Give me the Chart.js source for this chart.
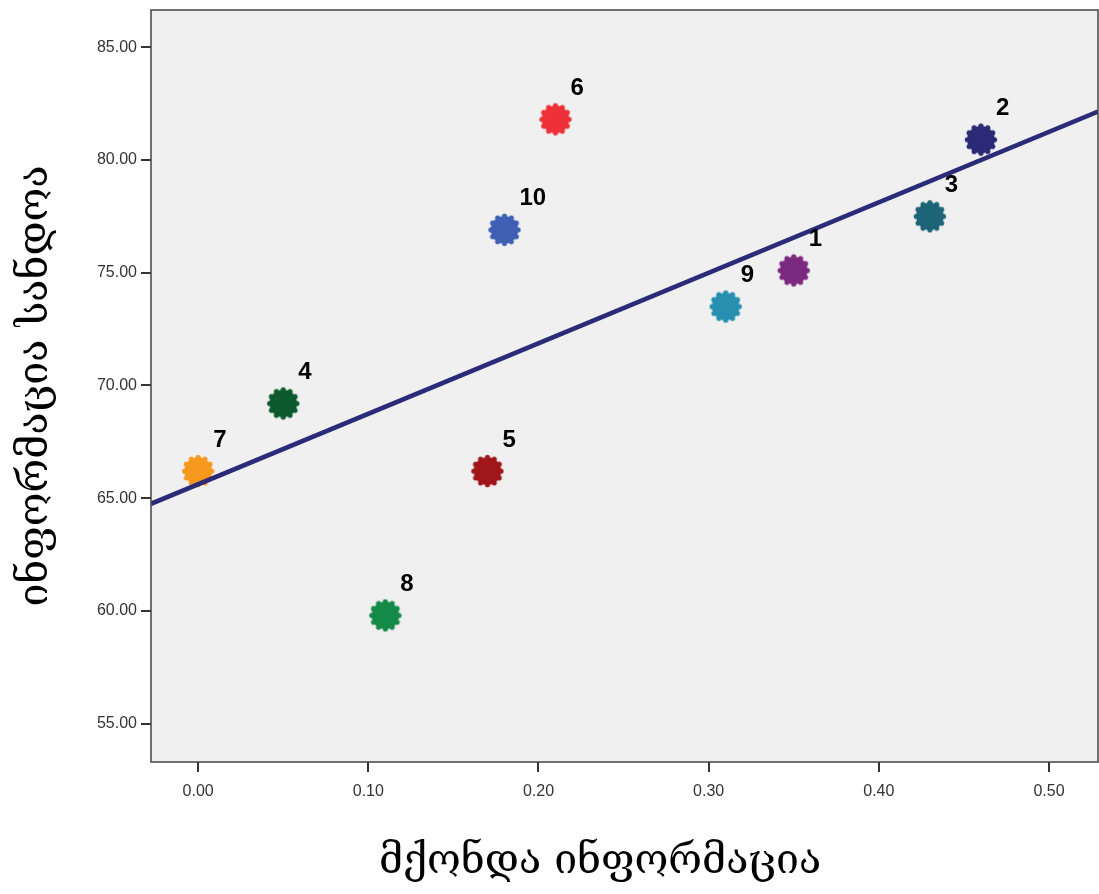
<!DOCTYPE html>
<html>
<head>
<meta charset="utf-8">
<script src="https://cdn.jsdelivr.net/npm/chart.js@4/dist/chart.umd.min.js"></script>
<style>
  html, body { margin: 0; padding: 0; background: #fff; }
  #wrap { width: 1099px; height: 894px; }
</style>
</head>
<body>
<div id="wrap"><canvas id="myChart" width="1099" height="894"></canvas></div>
<script>
// data
const ids = ["1", "2", "3", "4", "5", "6", "7", "8", "9", "10"];
const xVals = [0.35, 0.46, 0.43, 0.05, 0.17, 0.21, 0.00, 0.11, 0.31, 0.18];
const yVals = [75.1, 80.9, 77.5, 69.2, 66.2, 81.8, 66.2, 59.8, 73.5, 76.9];
const pointColors = ["#7c2a7f", "#2a2a76", "#1e6478", "#0c5a2e", "#a0161a",
                     "#ee3039", "#f7981f", "#138a48", "#2790b0", "#3f5fb5"];
const xTicks = [0, 0.1, 0.2, 0.3, 0.4, 0.5];
const yTicks = [55, 60, 65, 70, 75, 80, 85];
const xTitle = "მქონდა ინფორმაცია";
const yTitle = "ინფორმაცია სანდოა";

// least squares fit line
function fitLine(xs, ys) {
  var n = xs.length, mx = 0, my = 0;
  for (var i = 0; i < n; i++) { mx += xs[i] / n; my += ys[i] / n; }
  var sxy = 0, sxx = 0;
  for (var i = 0; i < n; i++) {
    sxy += (xs[i] - mx) * (ys[i] - my);
    sxx += (xs[i] - mx) * (xs[i] - mx);
  }
  var b = sxy / sxx;
  return { a: my - b * mx, b: b };
}
const fit = fitLine(xVals, yVals);
const xMin = -0.0277, xMax = 0.5288;
const yMin = 53.3, yMax = 86.65;

// scalloped marker
function flower(color) {
  var c = document.createElement("canvas");
  c.width = 36; c.height = 36;
  var g = c.getContext("2d");
  g.fillStyle = color;
  g.beginPath();
  g.arc(18, 18, 13.8, 0, Math.PI * 2);
  g.fill();
  for (var k = 0; k < 12; k++) {
    var ang = k * Math.PI / 6;
    g.beginPath();
    g.arc(18 + Math.cos(ang) * 13.6, 18 + Math.sin(ang) * 13.6, 2.6, 0, Math.PI * 2);
    g.fill();
  }
  return c;
}

const bgPlugin = {
  id: "bgPlugin",
  beforeDraw(chart) {
    const a = chart.chartArea, ctx = chart.ctx;
    ctx.save();
    ctx.fillStyle = "#f0f0f0";
    ctx.fillRect(a.left, a.top, a.right - a.left, a.bottom - a.top);
    ctx.restore();
  },
  afterDraw(chart) {
    const a = chart.chartArea, ctx = chart.ctx;
    ctx.save();
    ctx.strokeStyle = "#444";
    ctx.lineWidth = 1.5;
    ctx.strokeRect(a.left, a.top, a.right - a.left, a.bottom - a.top);
    // point labels
    const meta = chart.getDatasetMeta(1);
    ctx.fillStyle = "#000";
    ctx.font = "bold 24px 'Liberation Sans', Arial, sans-serif";
    ctx.textAlign = "left";
    ctx.textBaseline = "middle";
    meta.data.forEach(function (p, i) {
      ctx.fillText(ids[i], p.x + 15, p.y - 31);
    });
    // x axis title
    ctx.font = "41px 'DejaVu Serif', serif";
    ctx.textAlign = "center";
    ctx.fillText(xTitle, 600, 862);
    ctx.restore();
  }
};

const ctx = document.getElementById("myChart");
new Chart(ctx, {
  type: "scatter",
  data: {
    datasets: [
      {
        type: "line",
        data: [{ x: xMin, y: fit.a + fit.b * xMin }, { x: xMax, y: fit.a + fit.b * xMax }],
        borderColor: "#2b2b7a",
        borderWidth: 4.5,
        pointRadius: 0,
        fill: false,
      },
      {
        data: xVals.map(function (x, i) { return { x: x, y: yVals[i] }; }),
        pointStyle: pointColors.map(flower),
        pointRadius: 16,
        backgroundColor: pointColors,
      },
    ],
  },
  options: {
    responsive: false,
    animation: false,
    events: [],
    layout: { autoPadding: false, padding: { top: 10, right: 1, left: 0, bottom: 0 } },
    plugins: { legend: { display: false }, tooltip: { enabled: false } },
    scales: {
      x: {
        type: "linear",
        min: xMin,
        max: xMax,
        afterBuildTicks: function (s) { s.ticks = xTicks.map(function (v) { return { value: v }; }); },
        afterFit: function (s) { s.height = 132; s.paddingLeft = 0; s.paddingRight = 0; },
        grid: { drawOnChartArea: false, drawTicks: true, tickLength: 10, color: "#333", lineWidth: 2 },
        border: { display: false },
        ticks: {
          color: "#333",
          padding: 10,
          font: { family: "'Liberation Sans', Arial, sans-serif", size: 16 },
          callback: function (v) { return v.toFixed(2); },
        },
        title: { display: false },
      },
      y: {
        type: "linear",
        min: yMin,
        max: yMax,
        afterBuildTicks: function (s) { s.ticks = yTicks.map(function (v) { return { value: v }; }); },
        afterFit: function (s) { s.width = 151; s.paddingTop = 0; s.paddingBottom = 0; },
        grid: { drawOnChartArea: false, drawTicks: true, tickLength: 10, color: "#333", lineWidth: 2 },
        border: { display: false },
        ticks: {
          color: "#333",
          padding: 4,
          font: { family: "'Liberation Sans', Arial, sans-serif", size: 16 },
          callback: function (v) { return v.toFixed(2); },
        },
        title: {
          display: true,
          text: yTitle,
          color: "#000",
          font: { family: "'DejaVu Serif', serif", size: 41, weight: "normal" },
          padding: { top: 12, bottom: 0 },
        },
      },
    },
  },
  plugins: [bgPlugin],
});
</script>
</body>
</html>
